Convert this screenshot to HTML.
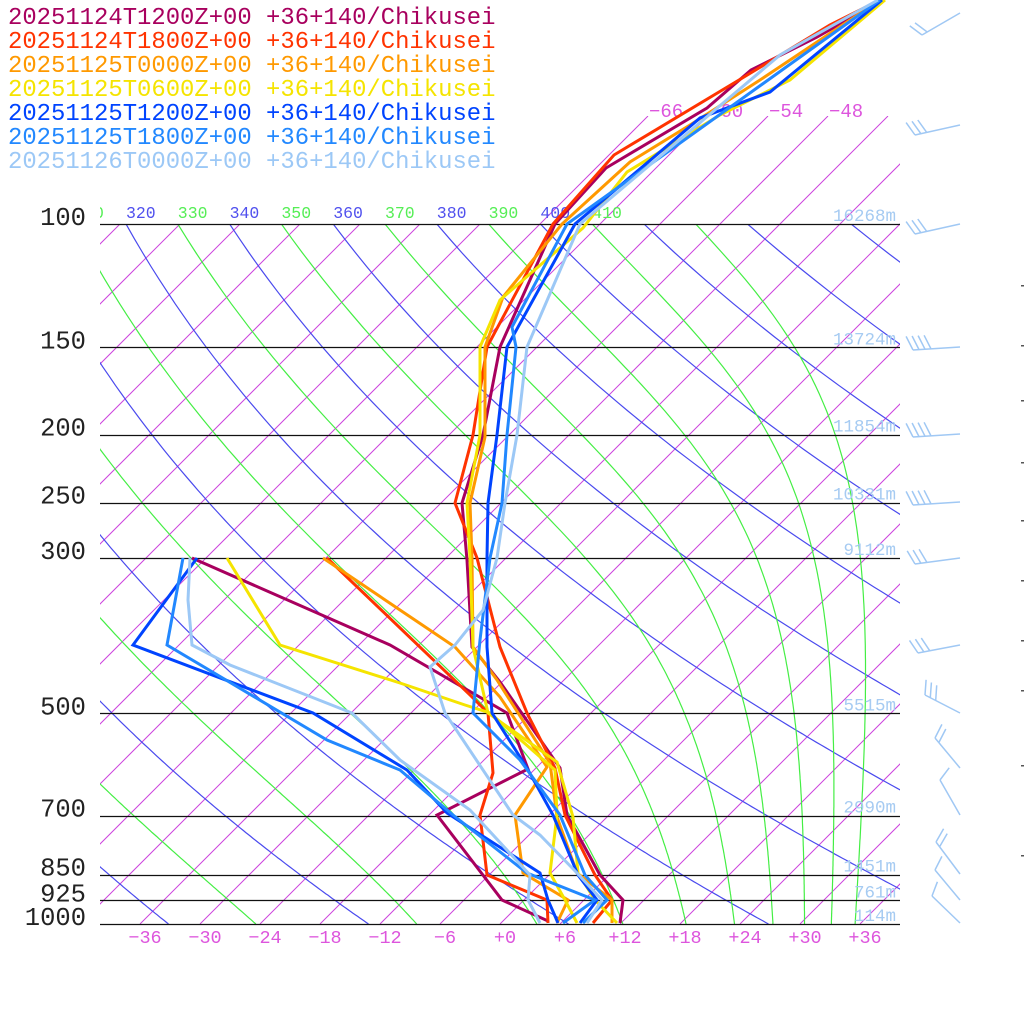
<!DOCTYPE html>
<html><head><meta charset="utf-8">
<style>
html,body{margin:0;padding:0;background:#fff;}
svg{display:block;}
text{font-family:"Liberation Mono","DejaVu Sans Mono",monospace;}
</style></head>
<body>
<svg id="s" width="1024" height="1024" viewBox="0 0 1024 1024" xmlns="http://www.w3.org/2000/svg">
<defs>
<clipPath id="cA"><rect x="100" y="224" width="800" height="700"/></clipPath>
<clipPath id="cI"><rect x="100" y="116" width="800" height="808"/></clipPath>
<clipPath id="cL"><rect x="100" y="190" width="800" height="40"/></clipPath>
</defs>
<g id="grid"></g>
<g id="traces" fill="none" stroke-width="3" stroke-linejoin="miter"></g>
<g id="barbs" stroke="#a0c8f4" stroke-width="1.5" fill="none"></g>
<g id="txt"></g>
</svg>
<script>
var NS="http://www.w3.org/2000/svg";
function el(parent,tag,attrs,txt){var e=document.createElementNS(NS,tag);for(var k in attrs)e.setAttribute(k,attrs[k]);if(txt!==undefined)e.textContent=txt;document.getElementById(parent).appendChild(e);return e;}
function yOf(p){return 924-700*Math.log10(1000/p);}
function xOf(T,y){return 500+10*T+(924-y);}
var g='grid';
// isotherms
var iso='',isoHi='';
for(var T=-150;T<=60;T+=6){var x0=500+10*T;
 if(T>=-66) isoHi+='M'+x0+',924L'+(x0+808)+',116';
 else iso+='M'+x0+',924L'+(x0+700)+',224';}
el(g,'path',{d:iso,stroke:'#cc44dd','stroke-width':1,fill:'none','clip-path':'url(#cA)'});
el(g,'path',{d:isoHi,stroke:'#cc44dd','stroke-width':1,fill:'none','clip-path':'url(#cI)'});
// dry adiabats
function dryPath(th){var d='';for(var p=100;p<=1000;p+=5){var T=th*Math.pow(p/1000,0.2857)-273.15;var y=yOf(p);d+=(p==100?'M':'L')+xOf(T,y).toFixed(1)+','+y.toFixed(1);}return d;}
function es(Tc){return 6.112*Math.exp(17.67*Tc/(Tc+243.5));}
function moistPath(th){var T=th*Math.pow(0.1,0.2857);var d='';var Rd=287.04,cp=1005.7,Lv=2.501e6,eps=0.622;
 for(var p=100;p<=1000;p+=1){var y=yOf(p);if((p-100)%5==0)d+=(p==100?'M':'L')+xOf(T-273.15,y).toFixed(1)+','+y.toFixed(1);
  var e=es(T-273.15);var rs=eps*e/(p-e);var dTdp=(Rd*T+Lv*rs)/(p*(cp+Lv*Lv*rs*eps/(Rd*T*T)));T+=dTdp*1;}
 return d;}
var dp='',mp='';
for(var th=200;th<=460;th+=20){dp+=dryPath(th);}
for(var th=190;th<=430;th+=20){mp+=moistPath(th);}
el(g,'path',{d:dp,stroke:'#4a4aee','stroke-width':1.2,fill:'none','clip-path':'url(#cA)'});
el(g,'path',{d:mp,stroke:'#44ee44','stroke-width':1.2,fill:'none','clip-path':'url(#cA)'});
// isobars
[100,150,200,250,300,500,700,850,925,1000].forEach(function(p){var y=Math.round(yOf(p))+0.5;el(g,'line',{x1:100,x2:900,y1:y,y2:y,stroke:'#111','stroke-width':1.3});});
// theta labels
for(var th=310;th<=410;th+=10){var x=xOf(th*Math.pow(0.1,0.2857)-273.15,224);el(g,'text',{x:x.toFixed(1),y:218,'font-size':16.5,fill:(th%20==0?'#5050ee':'#55ee55'),'clip-path':'url(#cL)'},String(th));}
// isotherm labels
[-66,-60,-54,-48].forEach(function(T){el(g,'text',{x:xOf(T,116)+1,y:117,'font-size':19,fill:'#dd55dd'},String(T).replace('-','\u2212'));});
// bottom labels
[-36,-30,-24,-18,-12,-6,0,6,12,18,24,30,36].forEach(function(T){var s=(T>=0?'+':'')+T;el(g,'text',{x:500+10*T+5,y:943,'font-size':18.5,fill:'#dd55dd','text-anchor':'middle'},s.replace('-','\u2212'));});
// pressure labels
[[100,'100'],[150,'150'],[200,'200'],[250,'250'],[300,'300'],[500,'500'],[700,'700'],[850,'850'],[925,'925'],[1000,'1000']].forEach(function(a){el(g,'text',{x:86,y:yOf(a[0])+1,'font-size':25.5,fill:'#222','text-anchor':'end'},a[1]);});
// heights
[[100,'16268m'],[150,'13724m'],[200,'11854m'],[250,'10331m'],[300,'9112m'],[500,'5515m'],[700,'2990m'],[850,'1451m'],[925,'761m'],[1000,'114m']].forEach(function(a){el(g,'text',{x:896,y:yOf(a[0])-3,'font-size':17.5,fill:'#a6cbf2','text-anchor':'end'},a[1]);});
// traces
var S=[
 ['#a8005e',
  [[620,923],[623,900],[600,875],[567,815],[560,768],[530,725],[500,682],[472,647],[467,560],[462,503],[483,435],[500,347],[555,224],[606,168],[707,108],[751,70],[817,37],[882,0]],
  [[548,921],[502,900],[437,815],[528,769],[507,713],[390,645],[192,558]]],
 ['#ff3300',
  [[593,923],[612,900],[595,875],[565,815],[555,768],[527,713],[500,647],[477,558],[455,503],[473,435],[487,347],[553,224],[614,155],[744,77],[830,25],[880,0]],
  [[548,923],[547,900],[487,875],[480,815],[493,773],[488,713],[470,695],[327,558]]],
 ['#ff9900',
  [[612,923],[612,900],[577,873],[557,817],[550,763],[497,680],[473,647],[472,558],[470,503],[485,437],[485,347],[503,297],[562,224],[630,162],[690,125],[760,80],[880,0]],
  [[557,923],[568,900],[523,873],[515,815],[547,767],[500,697],[455,647],[400,610],[323,558]]],
 ['#f5e400',
  [[617,923],[595,900],[578,873],[573,817],[557,762],[488,713],[473,647],[470,558],[467,503],[480,435],[480,347],[500,300],[583,228],[627,172],[720,115],[790,80],[885,0]],
  [[577,923],[565,900],[550,873],[557,815],[555,770],[490,713],[465,705],[400,683],[280,645],[227,558]]],
 ['#0044ff',
  [[580,923],[597,900],[578,875],[553,815],[527,768],[492,713],[487,647],[487,558],[488,503],[497,435],[507,347],[575,224],[700,118],[770,92],[882,0]],
  [[558,923],[548,900],[540,873],[447,813],[407,770],[313,713],[133,645],[197,558]]],
 ['#2288ff',
  [[583,923],[607,900],[585,875],[560,815],[520,760],[473,713],[480,640],[490,558],[502,503],[507,435],[516,347],[512,327],[567,224],[810,50],[880,0]],
  [[563,923],[595,900],[527,873],[453,815],[400,770],[327,740],[167,645],[183,558]]],
 ['#9cc8f6',
  [[587,923],[602,900],[577,873],[540,835],[513,815],[445,713],[430,667],[455,645],[483,610],[497,558],[505,503],[517,435],[527,347],[580,224],[780,55],[878,0]],
  [[540,923],[528,900],[530,875],[470,810],[400,760],[352,713],[230,665],[192,645],[188,600],[190,558]]]
];
S.forEach(function(s){[s[1],s[2]].forEach(function(pts){el('traces','polyline',{points:pts.map(function(p){return p.join(',');}).join(' '),stroke:s[0]});});});
// legend
var names=['20251124T1200Z+00','20251124T1800Z+00','20251125T0000Z+00','20251125T0600Z+00','20251125T1200Z+00','20251125T1800Z+00','20251126T0000Z+00'];
names.forEach(function(n,i){el('txt','text',{x:8,y:24+24*i,'font-size':23.9,fill:S[i][0]},n+' +36+140/Chikusei');});
// barbs
var B=[[13,-38,22,2],[125,-45,10,3],[224,-45,10,3],[347,-47,3,4],[434,-47,3,4],[502,-47,3,4],[558,-45,6,3],[645,-42,8,3],[713,-35,-18,3],[768,-25,-30,2],[815,-20,-35,1],[874,-24,-32,2],[900,-25,-30,1],[923,-28,-27,1]];
B.forEach(function(b){var x0=960,y0=b[0],x1=x0+b[1],y1=y0+b[2];var d='M'+x0+','+y0+'L'+x1+','+y1;
 var L=Math.hypot(b[1],b[2]);var ux=b[1]/L,uy=b[2]/L;var px=uy,py=-ux;if(py>0){px=-px;py=-py;}
 for(var k=0;k<b[3];k++){var bx=x1-ux*6*k,by=y1-uy*6*k;var ex=bx+px*14+ux*6,ey=by+py*14+uy*6;d+='M'+bx.toFixed(1)+','+by.toFixed(1)+'L'+ex.toFixed(1)+','+ey.toFixed(1);}
 el('barbs','path',{d:d});});
// small right ticks
[285,345,400,462,520,580,640,690,765,855].forEach(function(y){el('txt','rect',{x:1021,y:y,width:3,height:1.5,fill:'#555'});});
</script>
</body></html>
